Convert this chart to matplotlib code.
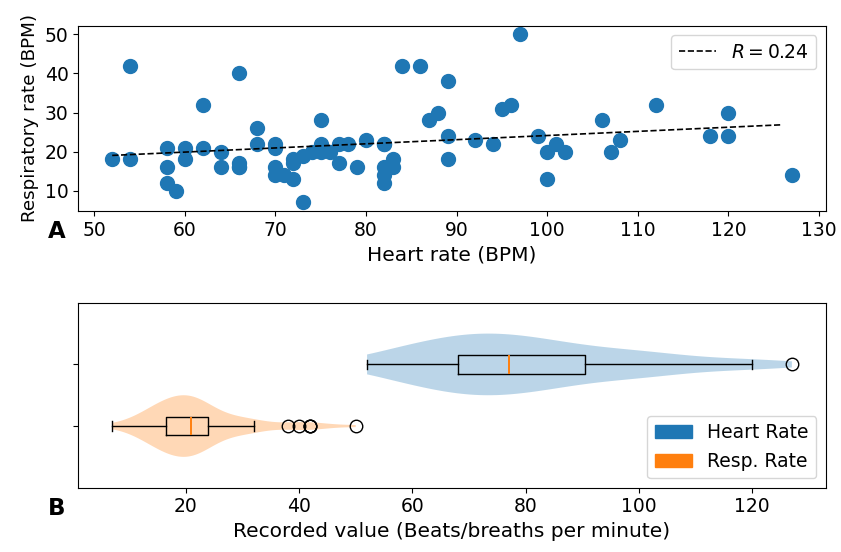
import matplotlib
matplotlib.use('Agg')
import matplotlib.pyplot as plt
from matplotlib.patches import Patch
import numpy as np

# Heart rate / respiratory rate pairs
heart_rate = [52, 54, 54, 58, 58, 58, 59, 60, 60, 62, 62, 64, 64, 66, 66, 66, 66,
              68, 68, 70, 70, 70, 70, 71, 72, 72, 72, 73, 73, 74, 75, 75, 75, 76,
              77, 77, 78, 79, 80, 82, 82, 82, 82, 82, 83, 83, 84, 86, 87, 88, 89,
              89, 89, 92, 94, 95, 96, 97, 99, 100, 100, 101, 102, 106, 107, 108,
              112, 118, 120, 120, 127]
resp_rate = [18, 42, 18, 21, 16, 12, 10, 21, 18, 32, 21, 20, 16, 40, 17, 16, 16,
             26, 22, 22, 21, 16, 14, 14, 18, 17, 13, 7, 19, 20, 28, 22, 20, 20,
             22, 17, 22, 16, 23, 22, 22, 16, 14, 12, 18, 16, 42, 42, 28, 30, 38,
             24, 18, 23, 22, 31, 32, 50, 24, 20, 13, 22, 20, 28, 20, 23, 32, 24,
             30, 24, 14]

series_labels = ['Heart Rate', 'Resp. Rate']
fit_label = '$R = 0.24$'
scatter_yticks = [10, 20, 30, 40, 50]
box_xticks = [20, 40, 60, 80, 100, 120]

plt.rcParams['font.size'] = 13.5
plt.rcParams['legend.fontsize'] = 13.5

hr = np.array(heart_rate)
rr = np.array(resp_rate)

fig = plt.figure(figsize=(8.41, 5.52), dpi=100)
ax1 = fig.add_axes([0.093, 0.618, 0.889, 0.335])
ax2 = fig.add_axes([0.093, 0.1165, 0.889, 0.335])

# A: scatter with linear fit
ax1.scatter(hr, rr, s=100, color='C0', zorder=2)
slope, intercept = np.polyfit(hr, rr, 1)
xs = np.arange(hr.min(), hr.max())
ax1.plot(xs, slope * xs + intercept, 'k--', lw=1.2, label=fit_label, zorder=3)
ax1.set_yticks(scatter_yticks)
ax1.legend(loc='upper right')
ax1.set_xlabel('Heart rate (BPM)', fontsize=14.5)
ax1.set_ylabel('Respiratory rate (BPM)', fontsize=13.2)
ax1.text(-0.041, -0.11, 'A', transform=ax1.transAxes, fontsize=16.5, fontweight='bold',
         ha='left', va='center')

# B: violins with box plots on top
parts = ax2.violinplot([hr, rr], positions=[2, 1], widths=1, showextrema=False,
                       orientation='horizontal')
for body, c in zip(parts['bodies'], ['C0', 'C1']):
    body.set_facecolor(c)
    body.set_edgecolor('none')
    body.set_alpha(0.3)
ax2.boxplot([hr, rr], positions=[2, 1], widths=0.3, orientation='horizontal',
            flierprops=dict(markersize=9), medianprops=dict(color='C1', lw=1.4))
ax2.set_ylim(0, 3)
ax2.set_yticks([1, 2])
ax2.set_yticklabels([])
ax2.set_xticks(box_xticks)
ax2.set_xticklabels([str(t) for t in box_xticks])
ax2.autoscale(axis='x')
ax2.set_xlabel('Recorded value (Beats/breaths per minute)', fontsize=14.5)
ax2.legend(handles=[Patch(color='C0', label=series_labels[0]),
                    Patch(color='C1', label=series_labels[1])], loc='lower right')
ax2.text(-0.041, -0.11, 'B', transform=ax2.transAxes, fontsize=16.5, fontweight='bold',
         ha='left', va='center')

fig.savefig('out.png', dpi=100)
